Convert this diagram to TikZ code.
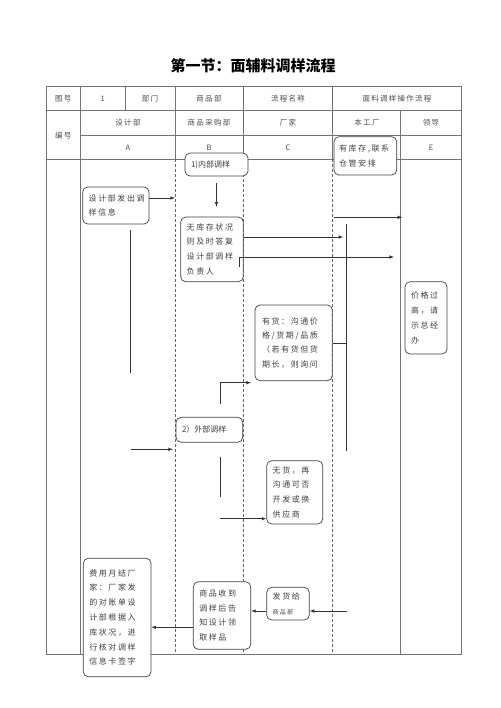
\documentclass[tikz,border=0pt]{standalone}
\usepackage{fontspec}
\setmainfont{Noto Sans CJK SC}
\newfontfamily\boxfont[LetterSpace=20]{Noto Sans CJK SC}
\newfontfamily\headfont[LetterSpace=17]{Noto Sans CJK SC}
\usetikzlibrary{calc}
\usetikzlibrary{arrows}

\begin{document}
\begin{tikzpicture}[x=1pt,y=-1pt,
 grid/.style={draw=black!55,line width=0.7pt},
 lane/.style={draw=black!60,line width=0.6pt,dash pattern=on 3pt off 2pt},
 cell/.style={text=black!70,font=\headfont\fontsize{7.5}{9}\selectfont,inner sep=0pt},
 flowbox/.style={draw=black!75,line width=0.7pt,rounded corners=5pt,fill=white,align=left,
   text=black!75,inner xsep=6pt,inner ysep=2pt,font=\boxfont\fontsize{8}{14.8}\selectfont},
 link/.style={draw=black!80,line width=0.6pt},
 arr/.style={link,-latex}]
\useasboundingbox (0,0) rectangle (500,708);
\node[font=\bfseries\fontsize{15}{15}\selectfont] (title) at (253,66) {第一节：面辅料调样流程};
% table
\draw[grid] (46,86.7) rectangle (461,654.3);
\draw[grid] (46,110.7)--(461,110.7);
\draw[grid] (80.7,135.7)--(461,135.7);
\draw[grid] (46,159.3)--(461,159.3);
\draw[grid] (80.7,86.7)--(80.7,654.3);
\draw[grid] (125,86.7)--(125,110.7);
\foreach \x in {175,243.3,332.7}{
 \draw[grid] (\x,86.7)--(\x,159.3);
 \draw[lane] (\x,159.3)--(\x,654.3);}
\draw[grid] (400.7,110.7)--(400.7,654.3);
\node[cell] (tuhao) at (63.3,98.7) {图号};
\node[cell] (num) at (102.8,98.7) {1};
\node[cell] (bumen) at (150,98.7) {部门};
\node[cell] (spb) at (209,98.7) {商品部};
\node[cell] (lcmc) at (288,98.7) {流程名称};
\node[cell] (lcname) at (397,98.7) {面料调样操作流程};
\node[cell] (bianhao) at (63.3,135.5) {编号};
\node[cell] (sjb) at (128,123) {设计部};
\node[cell] (cgb) at (209,123) {商品采购部};
\node[cell] (cj) at (288,123) {厂家};
\node[cell] (bgc) at (367,123) {本工厂};
\node[cell] (ld) at (431,123) {领导};
\node[cell] (colA) at (128,147.5) {A};
\node[cell] (colB) at (209,147.5) {B};
\node[cell] (colC) at (288,147.5) {C};
\node[cell] (colE) at (431,147.5) {E};
% boxes
\node[flowbox,text width=51pt,minimum height=23pt,font=\fontsize{8}{10}\selectfont] (neibu) at (216.5,164.5) {1)内部调样};
\node[flowbox,text width=54.3pt,minimum height=37pt] (fachu) at (115.85,205.5) {设计部发出调\\样信息};
\node[flowbox,text width=50.6pt,minimum height=64.7pt] (wukucun) at (212,249.35)
 {无库存状况\\则及时答复\\设计部调样\\负责人};
\node[flowbox,inner xsep=5pt,text width=52.7pt,minimum height=38.3pt] (youkucun) at (365.35,155.85)
 {有库存,联系\\仓管安排};
\node[flowbox,text width=30pt,minimum height=72.3pt] (jiage) at (426,317.85) {价格过\\高，请\\示总经\\办};
\node[flowbox,inner xsep=7pt,text width=63.3pt,minimum height=75.7pt,font=\boxfont\fontsize{8}{14.3}\selectfont]
 (youhuo) at (293.65,342.85) {有货：沟通价\\格/货期/品质\\（若有货但货\\期长，则询问};
\node[flowbox,text width=54.7pt,minimum height=25pt,font=\fontsize{8}{10}\selectfont] (waibu) at (209.35,429.8) {2）外部调样};
\node[flowbox,text width=44pt,minimum height=63.3pt] (wuhuo) at (294.7,492.35)
 {无货，再\\沟通可否\\开发或换\\供应商};
\node[flowbox,text width=55.7pt,minimum height=118.4pt] (feiyong) at (117.15,617.5)
 {费用月结厂\\家：厂家发\\的对账单设\\计部根据入\\库状况，进\\行核对调样\\信息卡签字};
\node[flowbox,text width=45.4pt,minimum height=67.6pt] (shoudao) at (222,615.5)
 {商品收到\\调样后告\\知设计领\\取样品};
\node[flowbox,text width=30.6pt,minimum height=32.7pt] (fahuo) at (288,603.65)
 {发货给\\{\fontsize{6}{8}\selectfont 商品部}};
% connectors
\coordinate (p1) at (175,198);
\draw[arr] (p1 -| fachu.east)--(p1);
\draw[arr,shorten <=7pt,shorten >=10pt] (neibu.south)--(neibu.south |- wukucun.north);
\coordinate (p2) at (343.3,237);
\draw[arr] (p2 -| wukucun.east)--(p2);
\coordinate (p3) at (239,267);
\coordinate (p4) at (394,257);
\draw[arr] (p3) |- (p4);
\coordinate (p5) at (334.3,217.3);
\coordinate (p6) at (402.3,217.3);
\draw[arr] (p5)--(p6);
\coordinate (p7) at (346.7,224);
\coordinate (p8) at (346.7,451);
\draw[link] (p7)--(p8);
\draw[link] (youhuo.east)--(youhuo.east -| p7);
\coordinate (p9) at (220,404);
\coordinate (p10) at (251,382.7);
\draw[arr] (p9) |- (p10);
\coordinate (p11) at (130,230);
\coordinate (p12) at (130,373);
\draw[link] (p11)--(p12);
\coordinate (p13) at (130.7,449.3);
\coordinate (p14) at (173,449.3);
\draw[arr] (p13)--(p14);
\coordinate (p15) at (220.3,456.7);
\coordinate (p16) at (220.3,497.3);
\draw[link] (p15)--(p16);
\coordinate (p17) at (220.3,518.7);
\draw[arr] (p17)--(p17 -| wuhuo.west);
\coordinate (p18) at (347.3,611);
\draw[arr] (p18)--(p18 -| fahuo.east);
\draw[arr] (p18 -| fahuo.west)--(p18 -| shoudao.east);
\coordinate (p19) at (0,627.3);
\draw[arr] (p19 -| shoudao.west)--(p19 -| feiyong.east);
\end{tikzpicture}
\end{document}
